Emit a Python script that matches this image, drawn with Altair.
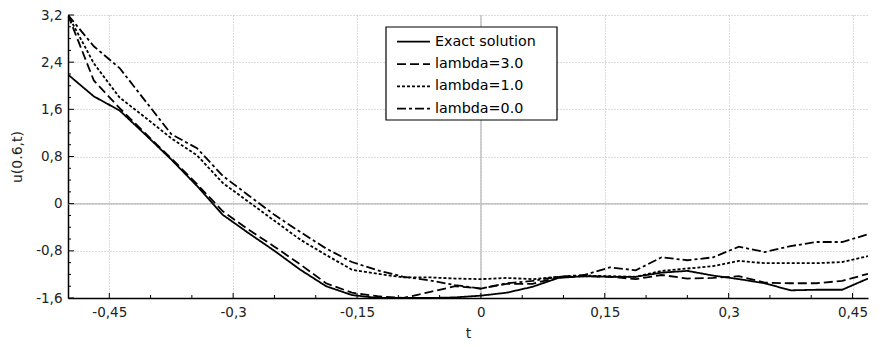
import altair as alt
import pandas as pd

# sampling times
t = [-0.5, -0.46875, -0.4375, -0.40625, -0.375, -0.34375, -0.3125, -0.28125,
     -0.25, -0.21875, -0.1875, -0.15625, -0.125, -0.09375, -0.0625, -0.03125,
     0.0, 0.03125, 0.0625, 0.09375, 0.125, 0.15625, 0.1875, 0.21875,
     0.25, 0.28125, 0.3125, 0.34375, 0.375, 0.40625, 0.4375, 0.46875]

exact = [2.19, 1.82, 1.58, 1.17, 0.75, 0.30, -0.19, -0.50, -0.80, -1.12, -1.40, -1.55,
         -1.60, -1.60, -1.60, -1.59, -1.56, -1.51, -1.41, -1.26, -1.23, -1.24, -1.24, -1.17,
         -1.14, -1.22, -1.28, -1.35, -1.47, -1.46, -1.46, -1.27]
lam3 = [3.2, 2.09, 1.62, 1.19, 0.77, 0.33, -0.13, -0.44, -0.73, -1.03, -1.35, -1.51,
        -1.57, -1.60, -1.50, -1.40, -1.44, -1.36, -1.36, -1.25, -1.23, -1.24, -1.28, -1.21,
        -1.27, -1.26, -1.23, -1.34, -1.35, -1.35, -1.31, -1.19]
lam1 = [3.2, 2.38, 1.80, 1.46, 1.11, 0.82, 0.35, 0.03, -0.29, -0.61, -0.87, -1.12,
        -1.19, -1.25, -1.25, -1.27, -1.28, -1.26, -1.28, -1.24, -1.22, -1.23, -1.24, -1.14,
        -1.10, -1.06, -0.97, -1.01, -1.01, -1.01, -0.99, -0.89]
lam0 = [3.2, 2.67, 2.30, 1.74, 1.18, 0.94, 0.47, 0.14, -0.19, -0.48, -0.76, -0.99,
        -1.13, -1.24, -1.30, -1.38, -1.44, -1.35, -1.31, -1.24, -1.21, -1.08, -1.13, -0.91,
        -0.96, -0.91, -0.73, -0.82, -0.72, -0.65, -0.65, -0.52]

series_names = ["Exact solution", "lambda=3.0", "lambda=1.0", "lambda=0.0"]
dashes = [[1, 0], [9, 4], [3, 2], [9, 3, 3, 3]]

x_major = [-0.45, -0.3, -0.15, 0, 0.15, 0.3, 0.45]
x_minor = [-0.4, -0.35, -0.25, -0.2, -0.1, -0.05, 0.05, 0.1, 0.2, 0.25, 0.35, 0.4]
y_major = [3.2, 2.4, 1.6, 0.8, 0, -0.8, -1.6]
y_minor = [3.0, 2.8, 2.6, 2.2, 2.0, 1.8, 1.4, 1.2, 1.0, 0.6, 0.4, 0.2,
           -0.2, -0.4, -0.6, -1.0, -1.2, -1.4]

FONT = "DejaVu Sans"
W, H = 800, 283

rows = []
for name, vals in zip(series_names, [exact, lam3, lam1, lam0]):
    for tt, v in zip(t, vals):
        rows.append({"t": tt, "u": v, "series": name})
df = pd.DataFrame(rows)
legend_df = pd.DataFrame({"series": series_names})

xscale = alt.Scale(domain=[-0.5, 0.46875], nice=False, zero=False)
yscale = alt.Scale(domain=[-1.6, 3.2], nice=False, zero=False)
dash_scale = alt.Scale(domain=series_names, range=dashes)

xaxis = alt.Axis(values=x_major, title="t", grid=True, gridDash=[1, 2], gridColor="#b8b8b8",
                 ticks=False, tickSize=0, domainColor="black", domainWidth=1.5,
                 labelFont=FONT, labelFontSize=13.5, labelColor="#222222", labelPadding=7,
                 labelExpr="replace(toString(round(datum.value*100)/100), '.', ',')",
                 titleFont=FONT, titleFontSize=14, titleFontWeight="normal", titleColor="#222222",
                 titleX=W / 2, titleY=39, titleBaseline="alphabetic")
yaxis = alt.Axis(values=y_major, title="u(0.6,t)", grid=True, gridDash=[1, 2], gridColor="#b8b8b8",
                 ticks=False, tickSize=0, domainColor="black", domainWidth=1.5,
                 labelFont=FONT, labelFontSize=13.5, labelColor="#222222", labelPadding=6,
                 labelExpr="replace(toString(round(datum.value*10)/10), '.', ',')",
                 titleFont=FONT, titleFontSize=14, titleFontWeight="normal", titleColor="#222222",
                 titleX=-47, titleY=H / 2, titleAngle=270, titleBaseline="alphabetic")

zero_x = alt.Chart(pd.DataFrame({"a": [0]})).mark_rule(color="#c4c4c4", strokeWidth=1.5).encode(
    x=alt.datum(0, scale=xscale))
zero_y = alt.Chart(pd.DataFrame({"a": [0]})).mark_rule(color="#c4c4c4", strokeWidth=1.5).encode(
    y=alt.datum(0, scale=yscale))

lines = alt.Chart(df).mark_line(strokeWidth=1.8, color="black", clip=True).encode(
    x=alt.X("t:Q", scale=xscale, axis=xaxis),
    y=alt.Y("u:Q", scale=yscale, axis=yaxis),
    strokeDash=alt.StrokeDash("series:N", scale=dash_scale, legend=None),
)

tx_major = alt.Chart(pd.DataFrame({"v": x_major})).mark_rule(color="black", strokeWidth=1).encode(
    x=alt.X("v:Q", scale=xscale, title="t"), y=alt.value(H), y2=alt.value(H - 5))
tx_minor = alt.Chart(pd.DataFrame({"v": x_minor})).mark_rule(color="black", strokeWidth=1).encode(
    x=alt.X("v:Q", scale=xscale, title="t"), y=alt.value(H), y2=alt.value(H - 3))
ty_major = alt.Chart(pd.DataFrame({"v": y_major})).mark_rule(color="black", strokeWidth=1).encode(
    y=alt.Y("v:Q", scale=yscale, title="u(0.6,t)"), x=alt.value(0), x2=alt.value(6))
ty_minor = alt.Chart(pd.DataFrame({"v": y_minor})).mark_rule(color="black", strokeWidth=1).encode(
    y=alt.Y("v:Q", scale=yscale, title="u(0.6,t)"), x=alt.value(0), x2=alt.value(3))

main = alt.layer(zero_x, zero_y, lines, tx_major, tx_minor, ty_major, ty_minor)

# legend drawn as its own layer
legend_box = alt.Chart(pd.DataFrame({"a": [0]})).mark_rect(
    fill="white", stroke="black", strokeWidth=1.2).encode(
    x=alt.value(318), x2=alt.value(489), y=alt.value(12), y2=alt.value(105))
leg_y = alt.Y("series:N", scale=alt.Scale(type="point", domain=series_names,
                                          range=[26.7, 93.7], padding=0), axis=None)
legend_sym = alt.Chart(legend_df).mark_rule(color="black", strokeWidth=1.8).encode(
    y=leg_y, x=alt.value(329), x2=alt.value(362),
    strokeDash=alt.StrokeDash("series:N", scale=dash_scale, legend=None))
legend_txt = alt.Chart(legend_df).mark_text(
    align="left", baseline="middle", font=FONT, fontSize=14.3, color="black").encode(
    y=leg_y, x=alt.value(367), text="series:N")
legend = alt.layer(legend_box, legend_sym, legend_txt)

chart = alt.layer(main, legend).resolve_scale(y="independent").properties(
    width=W, height=H,
    padding={"left": 60, "top": 7, "right": 6, "bottom": 41},
    autosize=alt.AutoSizeParams(type="none"),
    background="white",
).configure_view(strokeWidth=0)

chart.save("out.html", embed_options={"renderer": "svg", "actions": False})
